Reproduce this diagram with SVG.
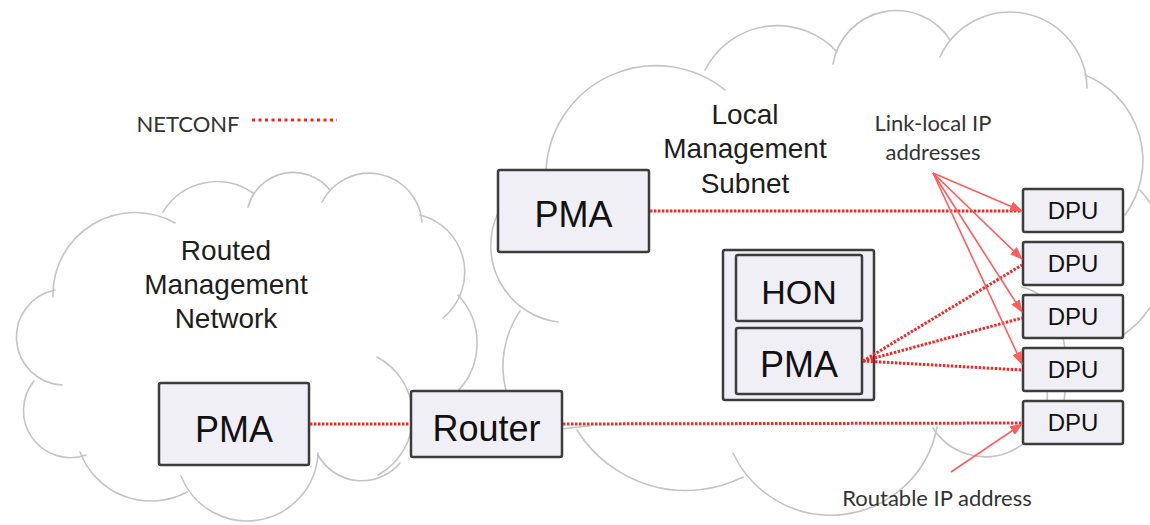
<svg xmlns="http://www.w3.org/2000/svg" width="1150" height="525" viewBox="0 0 1150 525">
<defs>
<style>
.cloud{fill:none;stroke:#c4c4c4;stroke-width:1.6;stroke-linecap:round}
.box{fill:#f0eff6;stroke:#3c3c3c;stroke-width:2.5}
.lbl{font-family:"Liberation Sans",Arial,sans-serif;fill:#111;text-anchor:middle}
.net{font-family:"Liberation Sans",Arial,sans-serif;font-size:28px;fill:#1e1e1e;text-anchor:middle}
.note{font-family:Lato,"Liberation Sans",sans-serif;font-size:22px;fill:#333;text-anchor:middle}
.nc{fill:none;stroke:#ff2020;stroke-width:3;stroke-dasharray:2.4 1.6}
.ann{fill:none;stroke:#ff5c5c;stroke-width:1.6}
</style>
<marker id="ah" viewBox="0 0 13 10" refX="12" refY="5" markerWidth="13" markerHeight="10" markerUnits="userSpaceOnUse" orient="auto">
<path d="M0,0 L13,5 L0,10 Z" fill="#ff5c5c"/>
</marker>
</defs>

<g id="cloud-routed">
<path class="cloud" d="M53,297 A82,82 0 0,1 175,223"/>
<path class="cloud" d="M163,212 A63,63 0 0,1 253,193"/>
<path class="cloud" d="M248,207 A47,47 0 0,1 330,190"/>
<path class="cloud" d="M322,202 A53,53 0 0,1 422,222"/>
<path class="cloud" d="M420,215 A59,59 0 0,1 443,318"/>
<path class="cloud" d="M458,295 A70,70 0 0,1 457,392"/>
<path class="cloud" d="M377,357 A67,67 0 0,1 378,475"/>
<path class="cloud" d="M400,463 A50,50 0 0,1 318,455"/>
<path class="cloud" d="M318,453 A71,71 0 0,1 181,476"/>
<path class="cloud" d="M187,492 A76,76 0 0,1 80,452"/>
<path class="cloud" d="M86,455 A47,47 0 0,1 34,381"/>
<path class="cloud" d="M62,385 A48,48 0 0,1 55,290"/>
</g>

<g id="cloud-local">
<path class="cloud" d="M498,213 A77,77 0 0,0 558,322"/>
<path class="cloud" d="M520,311 A98,98 0 0,0 507,394"/>
<path class="cloud" d="M546,172 A110,110 0 0,1 725,90"/>
<path class="cloud" d="M705,70 A81,81 0 0,1 837,52"/>
<path class="cloud" d="M833,64 A64,64 0 0,1 950,40"/>
<path class="cloud" d="M940,57 A77,77 0 0,1 1087,88"/>
<path class="cloud" d="M1085,75 A92,92 0 0,1 1125,215"/>
<path class="cloud" d="M1140,190 A96,96 0 0,1 1123,335"/>
<path class="cloud" d="M1022,287 Q1075,300 1064,402"/>
<path class="cloud" d="M1046,382 A62,62 0 0,1 933,428"/>
<path class="cloud" d="M937,427 A108,108 0 0,1 733,453"/>
<path class="cloud" d="M743,477 A128,128 0 0,1 577,430"/>
<path class="cloud" d="M562,429 Q575,427 590,426"/>
</g>

<g id="legend">
<text class="note" x="188" y="132">NETCONF</text>
<line class="nc" x1="252" y1="120" x2="337" y2="120" style="stroke-dasharray:3 3.5"/>
</g>

<g id="pma-top">
<rect class="box" x="498" y="170" width="151" height="82" rx="2"/>
<text class="lbl" x="573.5" y="227" font-size="36">PMA</text>
</g>
<g id="pma-bottom">
<rect class="box" x="159" y="383" width="150" height="82" rx="2"/>
<text class="lbl" x="234" y="442" font-size="36">PMA</text>
</g>
<g id="router">
<rect class="box" x="411" y="391" width="151" height="66" rx="2"/>
<text class="lbl" x="486.5" y="441" font-size="36">Router</text>
</g>
<g id="hon-unit">
<rect class="box" x="723" y="250" width="151" height="150" rx="2"/>
<g id="hon">
<rect class="box" x="736" y="255" width="126" height="66" rx="2"/>
<text class="lbl" x="799" y="304" font-size="34">HON</text>
</g>
<g id="pma-hon">
<rect class="box" x="736" y="328" width="126" height="66" rx="2"/>
<text class="lbl" x="799" y="377" font-size="36">PMA</text>
</g>
</g>
<g id="dpu1">
<rect class="box" x="1023" y="189" width="100" height="43" rx="2"/>
<text class="lbl" x="1073" y="219" font-size="24">DPU</text>
</g>
<g id="dpu2">
<rect class="box" x="1023" y="242" width="100" height="43" rx="2"/>
<text class="lbl" x="1073" y="272" font-size="24">DPU</text>
</g>
<g id="dpu3">
<rect class="box" x="1023" y="295" width="100" height="43" rx="2"/>
<text class="lbl" x="1073" y="325" font-size="24">DPU</text>
</g>
<g id="dpu4">
<rect class="box" x="1023" y="348" width="100" height="43" rx="2"/>
<text class="lbl" x="1073" y="378" font-size="24">DPU</text>
</g>
<g id="dpu5">
<rect class="box" x="1023" y="401" width="100" height="43" rx="2"/>
<text class="lbl" x="1073" y="431" font-size="24">DPU</text>
</g>

<g id="connectors">
<line class="nc" x1="310" y1="424" x2="410" y2="424"/>
<line class="nc" x1="563" y1="424" x2="1022" y2="423"/>
<line class="nc" x1="650" y1="211" x2="1022" y2="211"/>
<line class="nc" x1="863" y1="361" x2="1022" y2="265"/>
<line class="nc" x1="863" y1="361" x2="1022" y2="318"/>
<line class="nc" x1="863" y1="361" x2="1022" y2="370"/>
<line class="ann" x1="933" y1="173" x2="1022" y2="211" marker-end="url(#ah)"/>
<line class="ann" x1="933" y1="173" x2="1022" y2="259" marker-end="url(#ah)"/>
<line class="ann" x1="933" y1="173" x2="1022" y2="312" marker-end="url(#ah)"/>
<line class="ann" x1="933" y1="173" x2="1022" y2="364" marker-end="url(#ah)"/>
<line class="ann" x1="951" y1="472" x2="1022" y2="424" marker-end="url(#ah)"/>
</g>

<g id="labels">
<text class="net" x="226" y="260">Routed</text>
<text class="net" x="226" y="294">Management</text>
<text class="net" x="226" y="328">Network</text>
<text class="net" x="745" y="124">Local</text>
<text class="net" x="745" y="158">Management</text>
<text class="net" x="745" y="193">Subnet</text>
<text class="note" x="933" y="131">Link-local IP</text>
<text class="note" x="933" y="160">addresses</text>
<text class="note" x="937" y="506">Routable IP address</text>
</g>
</svg>
